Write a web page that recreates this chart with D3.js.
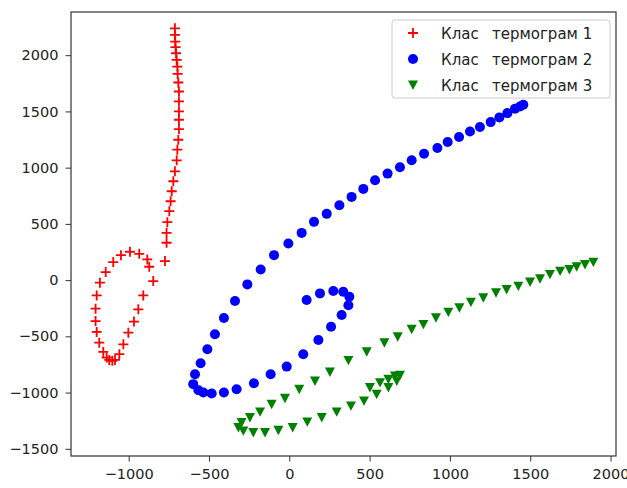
<!DOCTYPE html>
<html>
<head>
<meta charset="utf-8">
<script src="https://cdn.jsdelivr.net/npm/d3@7"></script>
<style>
  body { margin: 0; background: #fff; }
  text { font-family: "DejaVu Sans", sans-serif; }
</style>
</head>
<body>
<script>
// cluster 1 (red +)
var class1X = [-712, -712, -710, -708, -705, -701, -697, -695, -691, -687, -687, -687, -687, -687, -691, -697, -701,
  -712, -722, -732, -739, -747, -759, -764, -764, -774,
  -847, -872, -884, -934, -992, -1048, -1096, -1143, -1179, -1199, -1206, -1206, -1199, -1183, -1158, -1137,
  -1121, -1102, -1085, -1058, -1033, -1002, -967, -940, -909];
var class1Y = [2239, 2180, 2121, 2071, 2017, 1958, 1899, 1834, 1757, 1677, 1589, 1500, 1426, 1343, 1248, 1160, 1065,
  967, 879, 790, 701, 613, 515, 420, 332, 169,
  -9, 119, 184, 234, 252, 222, 160, 71, -23, -136, -254, -364, -461, -556, -639, -689,
  -710, -718, -710, -659, -571, -467, -369, -260, -136];

// cluster 2 (blue o)
var class2X = [1457, 1436, 1405, 1358, 1308, 1254, 1187, 1125, 1057, 986, 922, 839, 762, 689, 612, 534,
  461, 388, 312, 233, 154, 77, -6, -95, -178, -261, -338, -407, -463, -510, -552, -587, -598, -566, -535, -483,
  -407, -328, -220, -116, -16, 87, 181, 260, 326, 368, 374, 336, 274, 191, 108];
var class2Y = [1559, 1544, 1524, 1485, 1447, 1405, 1361, 1322, 1272, 1228, 1175, 1124, 1065, 1003, 947, 888,
  811, 740, 666, 589, 518, 420, 326, 222, 95, -38, -186, -337, -482, -615, -739, -837, -925, -979, -999, -1008,
  -999, -970, -917, -837, -769, -659, -532, -414, -310, -224, -148, -103, -97, -118, -177];

// cluster 3 (green v)
var class3X = [1893, 1841, 1789, 1744, 1686, 1623, 1561, 1499, 1426, 1353, 1287, 1208, 1131, 1059, 990, 913, 835,
  762, 675, 592, 482, 368, 253, 160, 62, -27, -110, -182, -245, -297, -317,
  -286, -224, -151, -68, 21, 112, 202, 295, 384, 465, 544, 617, 669, 689, 658, 617, 565, 502];
var class3Y = [160, 139, 119, 95, 80, 51, 12, -17, -53, -83, -112, -156, -195, -245, -284, -334, -393,
  -437, -503, -556, -636, -713, -816, -896, -970, -1050, -1103, -1171, -1221, -1266, -1310,
  -1340, -1354, -1354, -1334, -1310, -1260, -1221, -1171, -1118, -1073, -1014, -955, -897, -846, -852, -881, -911, -955];

var xTicks = [-1000, -500, 0, 500, 1000, 1500, 2000];
var yTicks = [-1500, -1000, -500, 0, 500, 1000, 1500, 2000];
var legendLabels = ["Клас", "Клас", "Клас"];
var legendRest = ["термограм 1", "термограм 2", "термограм 3"];

var W = 627, H = 488;
var margin = {top: 12, right: 11, bottom: 32, left: 71};

var x = d3.scaleLinear().domain([-1359, 2034]).range([margin.left, W - margin.right]);
var y = d3.scaleLinear().domain([-1564, 2384]).range([H - margin.bottom, margin.top]);

var svg = d3.select("body").append("svg")
  .attr("width", W)
  .attr("height", H);

var minus = function(d) { return String(d).replace("-", "\u2212"); };

// axes
var xAxis = d3.axisBottom(x).tickValues(xTicks).tickSize(5.5).tickPadding(7).tickFormat(minus);
var yAxis = d3.axisLeft(y).tickValues(yTicks).tickSize(5.5).tickPadding(7).tickFormat(minus);

var gx = svg.append("g")
  .attr("transform", "translate(0," + (H - margin.bottom) + ")")
  .call(xAxis);
var gy = svg.append("g")
  .attr("transform", "translate(" + margin.left + ",0)")
  .call(yAxis);

[gx, gy].forEach(function(g) {
  g.select(".domain").remove();
  g.selectAll(".tick line").attr("stroke", "#333");
  g.selectAll(".tick text").attr("fill", "#222").style("font-size", "14.5px")
    .style("font-family", "DejaVu Sans, sans-serif");
});

// frame
svg.append("rect")
  .attr("x", margin.left)
  .attr("y", margin.top)
  .attr("width", W - margin.left - margin.right)
  .attr("height", H - margin.top - margin.bottom)
  .attr("fill", "none")
  .attr("stroke", "#333")
  .attr("stroke-width", 1.2);

var plusPath = "M-5,0H5M0,-5V5";
var triPath = "M-5,-4.4L5,-4.4L0,5Z";

var main = svg.append("g");

main.selectAll(".c1")
  .data(d3.zip(class1X, class1Y))
  .enter().append("path")
    .attr("class", "c1")
    .attr("d", plusPath)
    .attr("transform", function(d) { return "translate(" + x(d[0]) + "," + y(d[1]) + ")"; })
    .attr("stroke", "#ff0000")
    .attr("stroke-width", 1.8)
    .attr("fill", "none");

main.selectAll(".c2")
  .data(d3.zip(class2X, class2Y))
  .enter().append("circle")
    .attr("class", "c2")
    .attr("cx", function(d) { return x(d[0]); })
    .attr("cy", function(d) { return y(d[1]); })
    .attr("r", 5)
    .attr("fill", "#0000ff");

main.selectAll(".c3")
  .data(d3.zip(class3X, class3Y))
  .enter().append("path")
    .attr("class", "c3")
    .attr("d", triPath)
    .attr("transform", function(d) { return "translate(" + x(d[0]) + "," + y(d[1]) + ")"; })
    .attr("fill", "#008000");

// legend
var leg = svg.append("g").attr("transform", "translate(392,20)");
leg.append("rect")
  .attr("width", 218).attr("height", 78).attr("rx", 3)
  .attr("fill", "#fff").attr("fill-opacity", 0.8)
  .attr("stroke", "#ccc");

var rows = leg.selectAll(".row")
  .data(legendLabels)
  .enter().append("g")
    .attr("transform", function(d, i) { return "translate(0," + (13 + i * 26) + ")"; });

rows.each(function(d, i) {
  var r = d3.select(this);
  if (i === 0) {
    r.append("path").attr("d", plusPath).attr("transform", "translate(21,0)")
      .attr("stroke", "#ff0000").attr("stroke-width", 1.8);
  } else if (i === 1) {
    r.append("circle").attr("cx", 21).attr("cy", 0).attr("r", 5).attr("fill", "#0000ff");
  } else {
    r.append("path").attr("d", triPath).attr("transform", "translate(21,0)").attr("fill", "#008000");
  }
  r.append("text").attr("x", 49).attr("y", 5.5).style("font-size", "15px").attr("fill", "#222").text(d);
  r.append("text").attr("x", 100).attr("y", 5.5).style("font-size", "15px").attr("fill", "#222").text(legendRest[i]);
});
</script>
</body>
</html>
